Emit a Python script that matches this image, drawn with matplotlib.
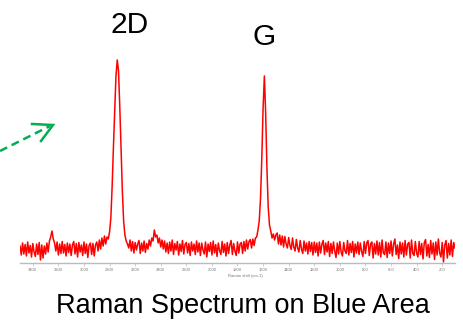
import numpy as np
import matplotlib
matplotlib.use("Agg")
import matplotlib.pyplot as plt
from matplotlib.lines import Line2D

plt.rcParams['font.family'] = ['Liberation Sans', 'DejaVu Sans']

# spectrum (counts, 3500 -> 100 cm-1, 10 cm-1 step)
shift_start = 3500
shift_stop = 100
intensity = [
    # 3500 - 3310
    170, 80, 200, 90, 185, 70, 210, 100, 175, 60, 195, 110, 65, 190, 85, 205, 30, 180, 50, 170,
    # 3300 - 3110 (2D' bump)
    90, 200, 110, 220, 260, 320, 240, 200, 120, 210, 80, 190, 95, 215, 100, 185, 70, 200, 105, 190,
    # 3100 - 2910
    75, 180, 215, 90, 195, 60, 205, 110, 180, 75, 210, 95, 190, 55, 175, 200, 85, 195, 70, 180,
    # 2900 - 2810
    210, 120, 230, 140, 250, 170, 270, 190, 260, 240,
    # 2D peak
    310, 450, 760, 1150, 1500, 1870, 2030,
    1920, 1560, 1150, 720, 420, 280, 220, 190,
    # 2650 - 2510
    150, 230, 120, 215, 100, 205, 130, 190, 225, 95, 200, 120, 220, 105, 195,
    # bump near 2450
    140, 230, 170, 250, 220, 330, 260, 280, 200, 250, 160, 230, 140,
    # 2370 - 2100
    220, 110, 200, 95, 210, 120, 230, 85, 195, 130, 215, 80, 190, 115, 225, 90, 185, 205, 100, 195,
    75, 210, 120, 190, 85, 220, 110, 200,
    # 2090 - 1700
    75, 200, 130, 90, 210, 60, 190, 115, 205, 80, 220, 100, 185, 65, 200, 125, 85, 215, 105, 190,
    70, 205, 95, 180, 225, 85, 195, 120, 75, 210, 100, 190, 205, 95, 215, 120, 230, 140, 215, 235,
    # G peak
    150, 240, 175, 250, 260, 330, 420, 650, 1050, 1550, 1870, 1500, 950, 560, 380, 320, 250, 290, 230, 280,
    # 1490 - 1200
    300, 190, 280, 180, 270, 160, 265, 190, 150, 255, 175, 135, 250, 160, 120, 235, 150, 110, 225, 140,
    95, 220, 120, 200, 90, 215, 115, 205, 80, 210,
    # 1190 - 800
    105, 200, 70, 210, 100, 190, 225, 85, 200, 110, 215, 65, 195, 95, 210, 120, 55, 200, 90, 215,
    110, 70, 205, 120, 95, 225, 80, 195, 105, 215, 60, 190, 100, 210, 85, 200, 115, 65, 215, 95,
    # 790 - 400
    200, 225, 75, 190, 210, 50, 195, 90, 220, 80, 205, 60, 230, 100, 85, 210, 55, 200, 95, 220,
    70, 190, 240, 85, 180, 45, 210, 90, 200, 60, 225, 80, 190, 205, 50, 230, 95, 75, 215, 100,
    # 390 - 100
    60, 215, 85, 195, 40, 205, 235, 70, 185, 55, 225, 90, 200, 35, 210, 80, 240, 100, 60, 205,
    10, 180, 225, 50, 195, 80, 230, 65, 205, 150,
]
tick_values = [3400, 3200, 3000, 2800, 2600, 2400, 2200, 2000, 1800,
               1600, 1400, 1200, 1000, 800, 600, 400, 200]

W, H = 464, 321
fig = plt.figure(figsize=(W / 100, H / 100), dpi=100)

ax = fig.add_axes([20 / W, 58 / H, 435 / W, 213 / H])
shift = np.linspace(shift_start, shift_stop, len(intensity))
ax.plot(shift, intensity, color='#ff0000', lw=1.1)
ax.set_xlim(shift_start, shift_stop)
ax.set_ylim(0, 2130)

for s in ['top', 'right', 'left']:
    ax.spines[s].set_visible(False)
ax.spines['bottom'].set_color('#bbbbbb')
ax.spines['bottom'].set_linewidth(1.0)
ax.set_yticks([])
ax.set_xticks(tick_values)
ax.set_xticklabels([str(t) for t in tick_values])
ax.tick_params(axis='x', length=2, width=0.5, color='#bbbbbb',
               labelsize=3, labelcolor='#777777', pad=1.5)
ax.set_xlabel('Raman shift (cm-1)', fontsize=3, color='#777777', labelpad=1.5)
ax.xaxis.set_label_coords((245 - 20) / 435, -0.05)


def fx(px):
    return px / W


def fy(py):
    return 1 - py / H


fig.text(fx(130), fy(33), '2D', fontsize=21.5, ha='center', va='baseline')
fig.text(fx(264), fy(45), 'G', fontsize=21.5, ha='center', va='baseline')
fig.text(fx(243), fy(313), 'Raman Spectrum on Blue Area', fontsize=19.5,
         ha='center', va='baseline')

# green dashed arrow
green = '#00b050'
fig.add_artist(Line2D([fx(0), fx(50)], [fy(151), fy(126)], color=green, lw=1.8,
                      linestyle=(0, (3.2, 2.0)), transform=fig.transFigure))
fig.add_artist(Line2D([fx(32), fx(53), fx(41)], [fy(124), fy(125), fy(141)],
                      color=green, lw=1.8, solid_joinstyle='miter',
                      transform=fig.transFigure))

fig.savefig('out.png', dpi=100)
